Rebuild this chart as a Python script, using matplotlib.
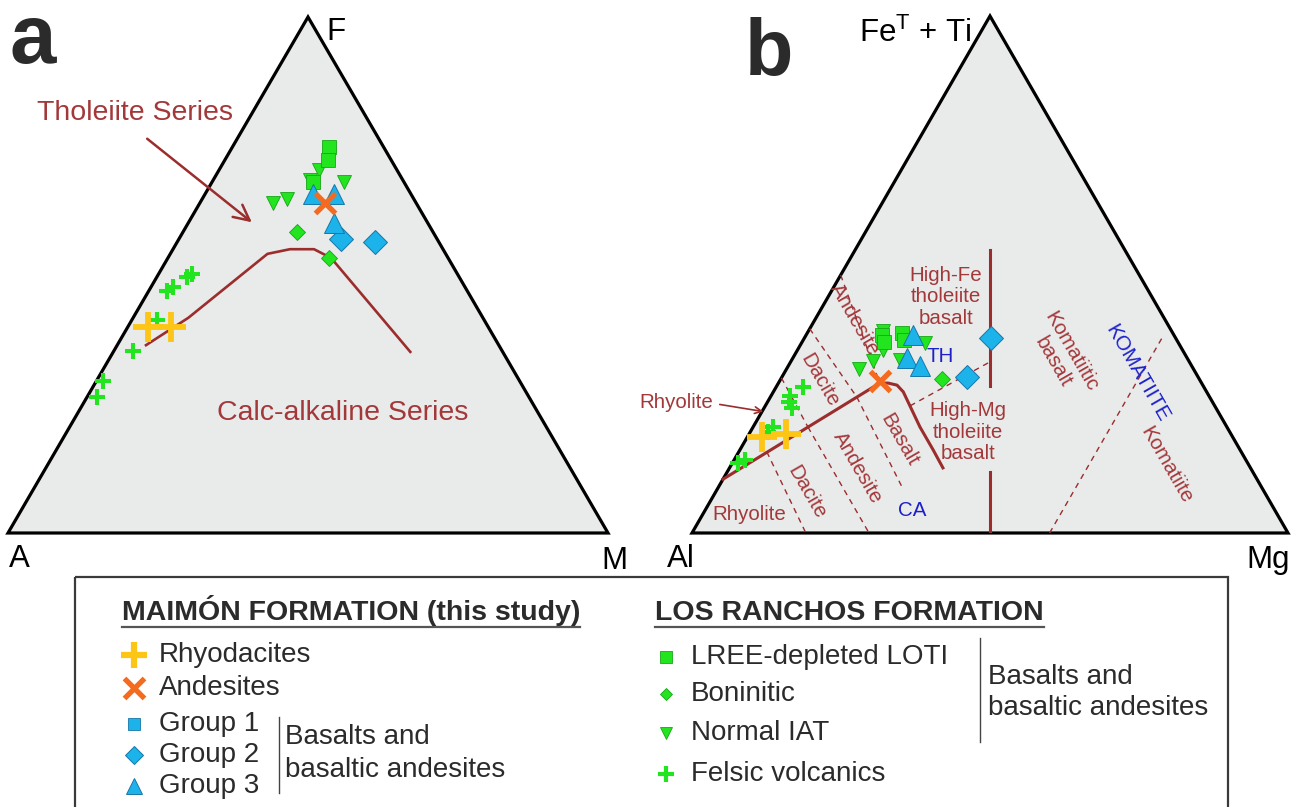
import numpy as np
import matplotlib
matplotlib.use('Agg')
import matplotlib.pyplot as plt
from matplotlib.patches import Polygon, Rectangle

plt.rcParams['font.family'] = 'Liberation Sans'
plt.rcParams['mathtext.fontset'] = 'custom'
plt.rcParams['mathtext.rm'] = 'Liberation Sans'
plt.rcParams['mathtext.default'] = 'regular'

# ---- data: ternary compositions in %, given as (right vertex, top vertex) ----
# diagram a: AFM, (M, F)
a_loti = [(16.1, 74.8), (17.1, 72.3), (16.8, 68.0)]
a_iat = [(16.6, 70.3), (16.1, 68.4), (22.0, 68.0), (12.2, 64.0), (14.1, 64.7)]
a_bon = [(19.0, 58.3), (26.9, 53.3)]
a_g2 = [(27.0, 57.0), (33.0, 56.4)]
a_g3 = [(17.9, 65.7), (21.5, 65.7), (24.3, 60.1)]
a_and = [(20.8, 64.0)]
a_rhy = [(3.3, 39.9), (7.2, 39.9)]
a_fel = [(5.6, 50.2), (5.0, 49.6), (3.7, 47.7), (3.1, 46.9), (4.2, 41.3),
         (3.1, 35.3), (1.1, 29.5), (1.6, 26.4)]
a_thca = [(4.8, 36.4), (9.2, 41.7), (16.2, 54.1), (19.5, 55.0), (23.5, 55.0),
          (27.2, 53.3), (49.5, 35.1)]

# diagram b: Jensen cation plot, (Mg, FeT+Ti)
b_loti = [(12.8, 38.3), (13.7, 36.9), (15.9, 38.7), (16.9, 37.3)]
b_iat = [(12.5, 39.1), (14.3, 35.4), (13.8, 33.3), (12.1, 31.7), (20.7, 36.8), (18.2, 33.5)]
b_bon = [(27.0, 29.8)]
b_g2 = [(31.0, 30.2), (31.4, 37.7)]
b_g3 = [(18.0, 38.3), (19.2, 33.8), (22.1, 32.3)]
b_and = [(16.8, 29.4)]
b_rhy = [(2.4, 18.6), (6.2, 19.1)]
b_fel = [(4.5, 28.2), (3.2, 26.5), (3.6, 25.3), (4.7, 24.2), (3.3, 20.5),
         (3.0, 19.5), (1.8, 14.1), (0.9, 13.5)]
b_thca = [(0, 10.4), (17.0, 29.0), (18.4, 29.0), (20.1, 28.6), (21.8, 27.3),
          (28.0, 20.5), (32.4, 16.1), (35.8, 12.6)]
b_solid = [[(22.65, 54.7), (35.8, 28.4)], [(44.1, 11.8), (50.0, 0.0)]]
b_dashed = [[(4.7, 15.7), (19.1, 0.0)], [(9.2, 20.5), (29.7, 0.0)],
            [(14.5, 26.3), (30.6, 9.1)], [(0.0, 30.0), (9.2, 20.5)],
            [(0.0, 39.5), (14.5, 26.3)], [(0.0, 49.9), (17.0, 29.0)],
            [(24.3, 24.6), (33.45, 33.1)], [(60.0, 0.0), (60.0, 38.3)]]

left_labels = ['Rhyodacites', 'Andesites', 'Group 1', 'Group 2', 'Group 3']
right_labels = ['LREE-depleted LOTI', 'Boninitic', 'Normal IAT', 'Felsic volcanics']

# ---- styles ----
GREEN, GREEN_E = '#22e41f', '#17a617'
BLUE, BLUE_E = '#1cb3ea', '#1677a8'
ORANGE, YELLOW = '#f46b20', '#fdc516'
BROWN, BROWN_T, NAVY = '#9b2d2d', '#a3383a', '#1d22c8'

st = {
    'loti': dict(marker='s', ms=10, mfc=GREEN, mec=GREEN_E, mew=0.6),
    'iat': dict(marker='v', ms=10.5, mfc=GREEN, mec=GREEN_E, mew=0.6),
    'bon': dict(marker='D', ms=8.5, mfc=GREEN, mec=GREEN_E, mew=0.6),
    'g1': dict(marker='s', ms=9, mfc=BLUE, mec=BLUE_E, mew=0.6),
    'g2': dict(marker='D', ms=12, mfc=BLUE, mec=BLUE_E, mew=0.7),
    'g3': dict(marker='^', ms=14, mfc=BLUE, mec=BLUE_E, mew=0.7),
    'and': dict(marker='x', ms=14.5, mew=3.8, color=ORANGE),
    'rhy': dict(marker='+', ms=21, mew=4.2, color=YELLOW),
    'fel': dict(marker='+', ms=12, mew=2.9, color=GREEN),
}

W, H = 1305, 807
fig = plt.figure(figsize=(W / 100, H / 100), dpi=100)
S3 = np.sqrt(3) / 2


def txy(pts):
    r, t = np.array(pts, dtype=float).T
    return r + t / 2, t * S3


def add_tern(x0, x1, base, top):
    ax = fig.add_axes([x0 / W, 1 - base / H, (x1 - x0) / W, (base - top) / H])
    ax.set_xlim(0, 100)
    ax.set_ylim(0, 100 * S3)
    ax.axis('off')
    ax.add_patch(Polygon([[0, 0], [100, 0], [50, 100 * S3]], closed=True, fc='#e9eaea',
                         ec='black', lw=2.3, joinstyle='miter', clip_on=False, zorder=1))
    return ax


def series(ax, pts, key):
    x, y = txy(pts)
    ax.plot(x, y, ls='none', clip_on=False, zorder=5, **st[key])


axa = add_tern(8, 608, 533, 17)
axb = add_tern(692, 1288, 533, 16)

# a: AFM
x, y = txy(a_thca)
axa.plot(x, y, color=BROWN, lw=1.9, zorder=3)
for pts, key in [(a_iat, 'iat'), (a_loti, 'loti'), (a_bon, 'bon'), (a_g2, 'g2'),
                 (a_g3, 'g3'), (a_and, 'and'), (a_fel, 'fel'), (a_rhy, 'rhy')]:
    series(axa, pts, key)

# b: Jensen
for seg in b_dashed:
    x, y = txy(seg)
    axb.plot(x, y, color=BROWN, lw=1.0, ls=(0, (4, 3.5)), zorder=2)
for seg in b_solid:
    x, y = txy(seg)
    axb.plot(x, y, color=BROWN, lw=2.2, zorder=3)
x, y = txy(b_thca)
axb.plot(x, y, color=BROWN, lw=2.2, zorder=3)
for pts, key in [(b_iat, 'iat'), (b_loti, 'loti'), (b_bon, 'bon'), (b_g2, 'g2'),
                 (b_g3, 'g3'), (b_and, 'and'), (b_fel, 'fel'), (b_rhy, 'rhy')]:
    series(axb, pts, key)

# ---- overlay in pixel units for labels and legend ----
ov = fig.add_axes([0, 0, 1, 1], zorder=10)
ov.set_xlim(0, W)
ov.set_ylim(H, 0)
ov.axis('off')

ov.text(10, 63, 'a', fontsize=60, fontweight='bold', color='#2b2b2b', va='baseline')
ov.text(745, 75, 'b', fontsize=57, fontweight='bold', color='#2b2b2b', va='baseline')
vfs = 22.5
ov.text(326, 40, 'F', fontsize=vfs, va='baseline')
ov.text(9, 567, 'A', fontsize=vfs, va='baseline')
ov.text(601, 569, 'M', fontsize=vfs, va='baseline')
ov.text(667, 567, 'Al', fontsize=vfs, va='baseline')
ov.text(1246, 568, 'Mg', fontsize=vfs, va='baseline')
ov.text(859, 42, 'Fe$^{T}$ + Ti', fontsize=vfs, va='baseline')

ov.text(135, 113, 'Tholeiite Series', fontsize=20.5, color=BROWN_T, ha='center', va='center')
ov.text(343, 413, 'Calc-alkaline Series', fontsize=20.5, color=BROWN_T, ha='center', va='center')
ov.annotate('', xy=(254, 224), xytext=(145, 137),
            arrowprops=dict(arrowstyle='->', color=BROWN, lw=1.8, mutation_scale=28))

fs = 14.8
kw = dict(fontsize=fs, color=BROWN_T, ha='center', va='center', linespacing=1.15)
ov.text(946, 297, 'High-Fe\ntholeiite\nbasalt', **kw)
ov.text(968, 432, 'High-Mg\ntholeiite\nbasalt', **kw)
ov.text(749, 515, 'Rhyolite', **kw)
ov.text(676, 402, 'Rhyolite', **kw)
ov.annotate('', xy=(766, 412), xytext=(717, 404),
            arrowprops=dict(arrowstyle='->', color=BROWN, lw=1.2, mutation_scale=12))
for txt, cx, cy in [('Andesite', 855, 320), ('Dacite', 820, 380), ('Basalt', 899, 440),
                    ('Andesite', 858, 468), ('Dacite', 807, 492), ('Komatiite', 1166, 465)]:
    ov.text(cx, cy, txt, rotation=-60, rotation_mode='anchor', **kw)
ov.text(1062, 357, 'Komatiitic\nbasalt', rotation=-60, rotation_mode='anchor',
        multialignment='center', **kw)
ov.text(940, 357, 'TH', fontsize=fs, color=NAVY, ha='center', va='center')
ov.text(912, 510, 'CA', fontsize=fs, color=NAVY, ha='center', va='center')
ov.text(1137, 373, 'KOMATIITE', fontsize=fs, color=NAVY, ha='center', va='center',
        rotation=-60, rotation_mode='anchor')

# ---- legend ----
ov.add_patch(Rectangle((75, 577), 1153, 260, fill=False, ec='#3a3a3a', lw=1.6, clip_on=False))
lfs = 20
heads = [ov.text(122, 620, 'MAIMÓN FORMATION (this study)', fontsize=20.5, fontweight='bold',
                 color='#2b2b2b', va='baseline'),
         ov.text(655, 620, 'LOS RANCHOS FORMATION', fontsize=20.5, fontweight='bold',
                 color='#2b2b2b', va='baseline')]

leg_left = dict(rhy=dict(ms=19, mew=4.5), **{'and': dict(ms=14, mew=3.8)},
                g1=dict(ms=9), g2=dict(ms=9), g3=dict(ms=11))
for lab, key, yy in zip(left_labels, ['rhy', 'and', 'g1', 'g2', 'g3'], [655, 688, 724, 755, 786]):
    s = dict(st[key]); s.update(leg_left[key])
    ov.plot([134], [yy], ls='none', clip_on=False, **s)
    ov.text(159, yy, lab, fontsize=lfs, color='#2b2b2b', va='center')
ov.plot([279, 279], [717, 793], color='#444444', lw=1.0)
ov.text(285, 737, 'Basalts and', fontsize=lfs, color='#2b2b2b', va='center')
ov.text(285, 770, 'basaltic andesites', fontsize=lfs, color='#2b2b2b', va='center')

leg_right = dict(loti=dict(ms=8), bon=dict(ms=6.5), iat=dict(ms=8), fel=dict(ms=11, mew=3))
for lab, key, yy in zip(right_labels, ['loti', 'bon', 'iat', 'fel'], [657, 694, 733, 774]):
    s = dict(st[key]); s.update(leg_right[key])
    ov.plot([666], [yy], ls='none', clip_on=False, **s)
    ov.text(691, yy, lab, fontsize=lfs, color='#2b2b2b', va='center')
ov.plot([980, 980], [638, 742], color='#444444', lw=1.0)
ov.text(988, 677, 'Basalts and', fontsize=lfs, color='#2b2b2b', va='center')
ov.text(988, 708, 'basaltic andesites', fontsize=lfs, color='#2b2b2b', va='center')

fig.canvas.draw()
r = fig.canvas.get_renderer()
for t in heads:
    bb = t.get_window_extent(r)
    ov.plot([bb.x0, bb.x1], [627, 627], color='#555555', lw=1.6)

fig.savefig('out.png', dpi=100)
